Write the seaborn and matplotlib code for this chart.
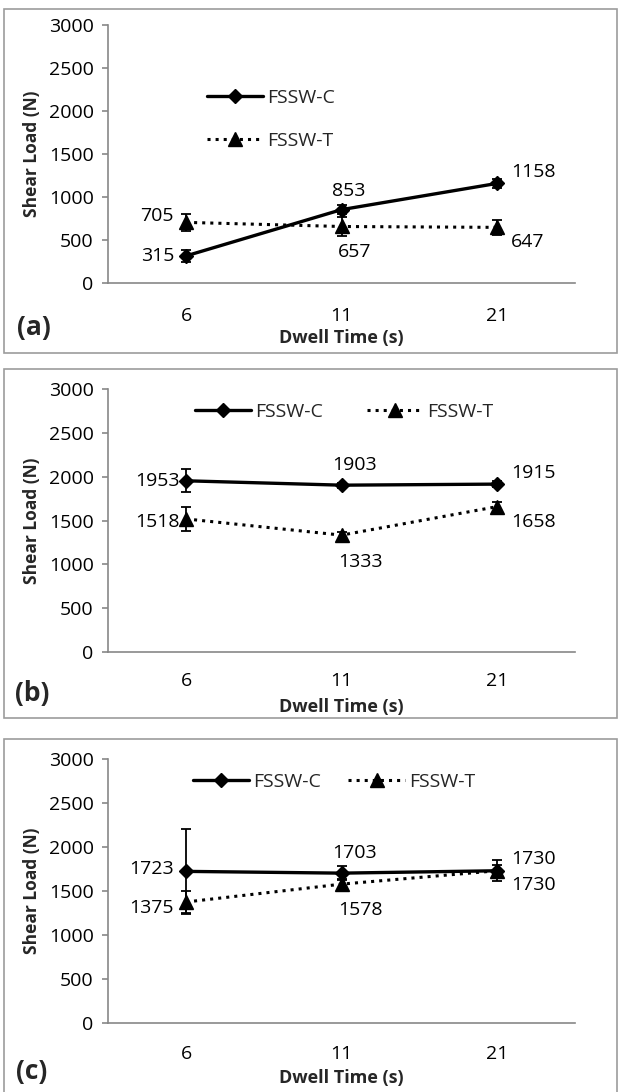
import matplotlib
matplotlib.use("Agg")
import matplotlib.pyplot as plt
import seaborn as sns
import pandas as pd
from matplotlib.patches import Rectangle
from matplotlib.lines import Line2D

# ---------------- data ----------------
dwell_times = ["6", "11", "21"]
series_names = ["FSSW-C", "FSSW-T"]

a_c = [315, 853, 1158]
a_t = [705, 657, 647]
a_c_err = [70, 55, 50]
a_t_err = [95, 110, 85]

b_c = [1953, 1903, 1915]
b_t = [1518, 1333, 1658]
b_c_err = [130, 30, 30]
b_t_err = [140, 40, 55]

c_c = [1723, 1703, 1730]
c_t = [1375, 1578, 1730]
c_c_err = [480, 80, 120]
c_t_err = [120, 60, 60]

y_ticks = [0, 500, 1000, 1500, 2000, 2500, 3000]
panel_tags = ["(a)", "(b)", "(c)"]
x_title = "Dwell Time (s)"
y_title = "Shear Load (N)"

# ---------------- style ----------------
sns.set_theme(style="white")
FONT = ["Open Sans", "DejaVu Sans"]
plt.rcParams["font.family"] = FONT

W, H = 621, 1092
PX = 0.72  # points per pixel at dpi 100
GREY = "#878787"
FS = 14
C_STYLE = dict(color="black", linewidth=2.4, linestyle="-", marker="D", markersize=6.8,
               markeredgecolor="black", markeredgewidth=1)
T_STYLE = dict(color="black", linewidth=2.2, linestyle=":", marker="^", markersize=10,
               markeredgecolor="black", markeredgewidth=1)


def fx(x):
    return x / W


def fy(y):
    return 1 - y / H


fig = plt.figure(figsize=(W / 100, H / 100), dpi=100)
fig.patch.set_facecolor("white")

# label offsets (pixels, dx, dy up positive, ha) per panel
layouts = [
    dict(box=(4, 9, 617, 353), top=25, bot=283, tag_xy=(34, 327), xlab_y=338, xtick_pad=17.4,
         c_off=[(-12, 0, "right"), (7, 19, "center"), (14, 11, "left")],
         t_off=[(-12, 6, "right"), (13, -26, "center"), (14, -15, "left")],
         legend=dict(ncol=1, x=207, y=119.5, colsp=1.0)),
    dict(box=(4, 369, 617, 718), top=389, bot=652, tag_xy=(32, 693), xlab_y=707, xtick_pad=14.5,
         c_off=[(-6, 0, "right"), (13, 20, "center"), (14, 11, "left")],
         t_off=[(-6, -3, "right"), (19, -27, "center"), (14, -15, "left")],
         legend=dict(ncol=2, x=195, y=412, colsp=2.25)),
    dict(box=(4, 739, 617, 1200), top=759, bot=1023, tag_xy=(32, 1072), xlab_y=1078, xtick_pad=15.8,
         c_off=[(-12, 2, "right"), (13, 20, "center"), (14, 12, "left")],
         t_off=[(-12, -6, "right"), (19, -26, "center"), (14, -14, "left")],
         legend=dict(ncol=2, x=193, y=782, colsp=1.4)),
]

panel_data = [
    (a_c, a_t, a_c_err, a_t_err),
    (b_c, b_t, b_c_err, b_t_err),
    (c_c, c_t, c_c_err, c_t_err),
]

AX_L, AX_R = 108.25, 574.75

for i, (lay, (cv, tv, ce, te)) in enumerate(zip(layouts, panel_data)):
    x0, y0, x1, y1 = lay["box"]
    fig.add_artist(Rectangle((fx(x0), fy(y1)), (x1 - x0) / W, (y1 - y0) / H,
                             transform=fig.transFigure, fill=False,
                             edgecolor="#9c9c9c", linewidth=1.2, zorder=0))

    ax = fig.add_axes([fx(AX_L), fy(lay["bot"]), (AX_R - AX_L) / W,
                       (lay["bot"] - lay["top"]) / H])
    ax.set_facecolor("none")

    df = pd.DataFrame({
        "pos": list(range(len(dwell_times))) * 2,
        "load": cv + tv,
        "err": ce + te,
        "series": [series_names[0]] * 3 + [series_names[1]] * 3,
    })
    dc = df[df["series"] == series_names[0]]
    dt = df[df["series"] == series_names[1]]

    for d in (dc, dt):
        ax.errorbar(d["pos"], d["load"], yerr=d["err"], fmt="none", ecolor="black",
                    elinewidth=1.3, capsize=3.8, capthick=1.3, zorder=2)

    sns.lineplot(data=dc, x="pos", y="load", ax=ax, zorder=3, legend=False, **C_STYLE)
    sns.lineplot(data=dt, x="pos", y="load", ax=ax, zorder=3, legend=False, **T_STYLE)

    ax.set_xlim(-0.5, 2.5)
    ax.set_ylim(0, 3000)
    ax.set_yticks(y_ticks)
    ax.set_yticklabels([str(t) for t in y_ticks])
    ax.set_xticks(range(len(dwell_times)))
    ax.set_xticklabels(dwell_times)
    ax.set_xlabel("")
    ax.set_ylabel("")
    for s in ["top", "right"]:
        ax.spines[s].set_visible(False)
    for s in ["left", "bottom"]:
        ax.spines[s].set_color(GREY)
        ax.spines[s].set_linewidth(1.2)
    ax.tick_params(axis="y", direction="out", length=4.5, width=1.2, color=GREY,
                   pad=6, labelsize=FS, labelcolor="black", left=True)
    ax.tick_params(axis="x", length=0, pad=lay["xtick_pad"], labelsize=FS,
                   labelcolor="black")

    # data labels
    for vals, offs in ((cv, lay["c_off"]), (tv, lay["t_off"])):
        for j, v in enumerate(vals):
            dx, dy, ha = offs[j]
            ax.annotate(str(v), (j, v), xytext=(dx * PX, dy * PX),
                        textcoords="offset points", ha=ha, va="center",
                        fontsize=FS, color="black", zorder=5)

    # legend
    lg = lay["legend"]
    handles = [Line2D([], [], **C_STYLE), Line2D([], [], **T_STYLE)]
    ax.legend(handles, series_names, loc="center left",
              bbox_to_anchor=(fx(lg["x"]), fy(lg["y"])),
              bbox_transform=fig.transFigure, ncol=lg["ncol"], frameon=False,
              fontsize=FS, handlelength=2.9, handletextpad=0.2,
              columnspacing=lg["colsp"], labelspacing=1.3, borderpad=0,
              borderaxespad=0, numpoints=1)

    # axis titles and panel tag
    fig.text(fx((AX_L + AX_R) / 2), fy(lay["xlab_y"]), x_title, ha="center",
             va="center", fontsize=13, fontweight="bold")
    fig.text(fx(32), fy((lay["top"] + lay["bot"]) / 2), y_title, ha="center",
             va="center", rotation=90, fontsize=12.5, fontweight="bold")
    fig.text(fx(lay["tag_xy"][0]), fy(lay["tag_xy"][1]), panel_tags[i],
             ha="center", va="center", fontsize=19, fontweight="bold")

fig.savefig("out.png", dpi=100, facecolor="white")
